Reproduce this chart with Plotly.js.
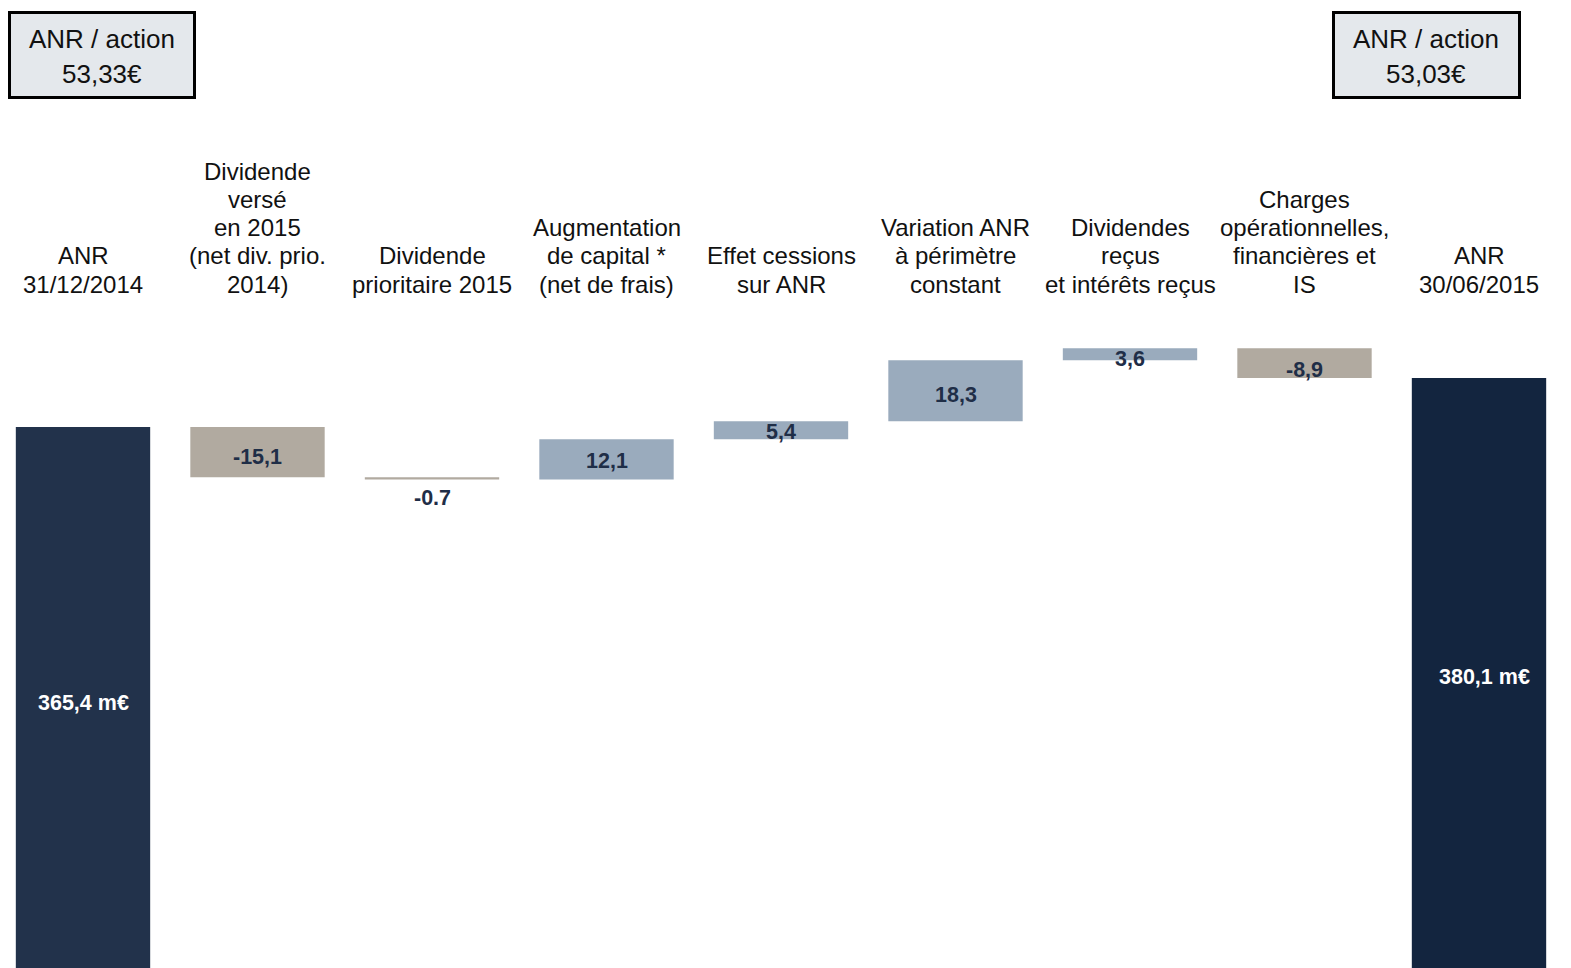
<!DOCTYPE html>
<html>
<head>
<meta charset="utf-8">
<script src="https://cdn.plot.ly/plotly-3.0.1.min.js"></script>
<style>html,body{margin:0;padding:0;background:#fff;}#chart{width:1571px;height:968px;}</style>
</head>
<body>
<div id="chart"></div>
<script>
const categories = [
  "ANR<br>31/12/2014",
  "Dividende<br>versé<br>en 2015<br>(net div. prio.<br>2014)",
  "Dividende<br>prioritaire 2015",
  "Augmentation<br>de capital *<br>(net de frais)",
  "Effet cessions<br>sur ANR",
  "Variation ANR<br>à périmètre<br>constant",
  "Dividendes<br>reçus<br>et intérêts reçus",
  "Charges<br>opérationnelles,<br>financières et<br>IS",
  "ANR<br>30/06/2015"
];
const measures = ["total","delta","delta","delta","delta","delta","delta","delta","total"];
const values = [365.4, -15.1, -0.7, 12.1, 5.4, 18.3, 3.6, -8.9, 380.1];
const valueLabels = ["365,4 m€","-15,1","-0.7","12,1","5,4","18,3","3,6","-8,9","380,1 m€"];
const navLeft = ["ANR / action", "53,33€"];
const navRight = ["ANR / action", "53,03€"];

const W = 1571, H = 968;
const FONT = "'Liberation Sans', Arial, sans-serif";
const xs = categories.map((c, i) => i);
const bases = [], heights = [], colors = [];
let run = 0;
values.forEach((v, i) => {
  if (measures[i] === "total") {
    bases.push(0); heights.push(v); run = v;
    colors.push(i === 0 ? "#22324b" : "#13253f");
  } else {
    bases.push(run); heights.push(v); run += v;
    colors.push(v < 0 ? "#b1aaa0" : "#9aabbd");
  }
});

const yMin = 202.9, yMax = 493.6;
const annotations = [];
// value label vertical nudges (pixels, negative = down)
const labelShift = [-6, -5, -20, -2, -2, -4, -5, -7, -4];
values.forEach((v, i) => {
  let yc, col = "#1f2e47", xsh = 0;
  if (measures[i] === "total") {
    yc = (yMin + heights[i]) / 2; col = "#ffffff";
    if (i === values.length - 1) xsh = 5;
  } else {
    yc = bases[i] + heights[i] / 2;
  }
  annotations.push({
    x: xs[i], y: yc, xref: "x", yref: "y", text: "<b>" + valueLabels[i] + "</b>",
    showarrow: false, yshift: labelShift[i], xshift: xsh, xanchor: "center", yanchor: "middle",
    font: {family: FONT, size: 21.5, color: col}
  });
});
// category labels, one annotation per line for exact spacing
const lineGap = 28.2, lastLineY = 284;
categories.forEach((c, i) => {
  const lines = c.split("<br>");
  lines.forEach((ln, k) => {
    const py = lastLineY - (lines.length - 1 - k) * lineGap;
    annotations.push({
      x: xs[i], y: 1 - py / H, xref: "x", yref: "paper", xanchor: "center", yanchor: "middle",
      text: ln, showarrow: false,
      font: {family: FONT, size: 24, color: "#111111"}
    });
  });
});
// NAV boxes
function navBox(lines, cx) {
  lines.forEach((ln, k) => {
    annotations.push({
      x: cx / W, y: 1 - (39 + k * 35) / H, xref: "paper", yref: "paper",
      xanchor: "center", yanchor: "middle",
      text: ln, showarrow: false,
      font: {family: FONT, size: 26, color: "#111111"}
    });
  });
}
navBox(navLeft, 102);
navBox(navRight, 1426);
const shapes = [
  {type: "rect", xref: "paper", yref: "paper", x0: 9.5 / W, x1: 194.5 / W, y0: 1 - 97.5 / H, y1: 1 - 12.5 / H,
   line: {color: "#000", width: 3}, fillcolor: "#e4e8ec", layer: "below"},
  {type: "rect", xref: "paper", yref: "paper", x0: 1333.5 / W, x1: 1519.5 / W, y0: 1 - 97.5 / H, y1: 1 - 12.5 / H,
   line: {color: "#000", width: 3}, fillcolor: "#e4e8ec", layer: "below"}
];

const r0 = -83 / 174.5;
const trace = {
  type: "bar", x: xs, y: heights, base: bases, width: 0.77,
  marker: {color: colors, line: {width: 0}}, hoverinfo: "none", textposition: "none"
};
const layout = {
  width: W, height: H, margin: {l: 0, r: 0, t: 0, b: 0},
  paper_bgcolor: "#fff", plot_bgcolor: "#fff", showlegend: false,
  xaxis: {range: [r0, r0 + W / 174.5], visible: false, fixedrange: true},
  yaxis: {range: [yMin, yMax], visible: false, fixedrange: true},
  annotations: annotations, shapes: shapes
};
Plotly.newPlot("chart", [trace], layout, {displayModeBar: false, staticPlot: true});
</script>
</body>
</html>
